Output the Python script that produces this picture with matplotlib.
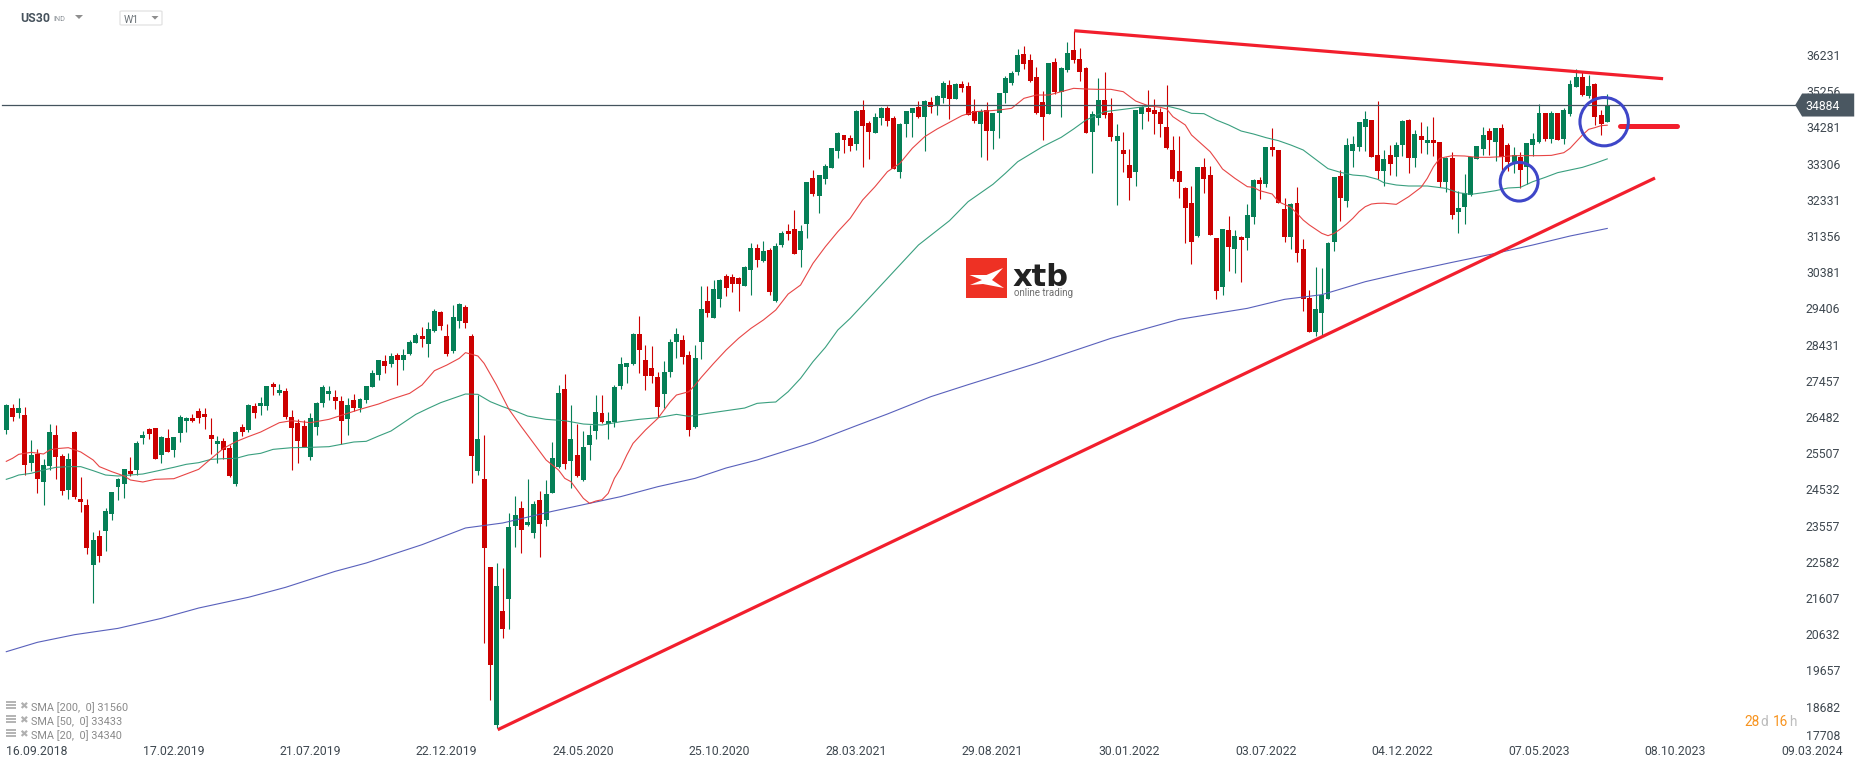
import matplotlib
matplotlib.use('Agg')
import matplotlib.pyplot as plt
from matplotlib.patches import Ellipse, Polygon, Rectangle, FancyBboxPatch

plt.rcParams['font.family'] = ['Roboto', 'DejaVu Sans']

# weekly candles, prices
opens = [
    26132,26725,26590,26536,25243,25486,24732,25163,25997,25432,
    24516,26078,24274,24112,22496,23277,23412,23870,24597,24678,
    25028,25055,25917,26159,26186,25459,25917,25594,26051,26375,
    26455,26644,26563,25997,25755,25836,25647,24678,26213,26132,
    26778,26778,26778,27371,27128,27182,26482,26320,26240,25405,
    26213,26859,27101,27021,26913,26428,26940,26724,26940,27290,
    27613,27990,27909,28152,28017,28179,28475,28663,28448,28798,
    29310,28663,28260,29067,29444,28663,25028,24812,22442,18187,
    21257,21581,23546,24031,23573,23358,24246,23708,24435,25135,
    27236,25297,25458,24785,25727,26105,26589,26293,26347,27316,
    27828,27909,28717,28017,27801,27559,27101,27693,28501,28555,
    28151,26212,28501,29606,29148,29659,30279,30252,30225,30010,
    30440,31033,30683,30979,29606,31114,31491,31545,30979,31679,
    32918,32433,32891,33187,33645,34076,33995,33834,34750,34399,
    34130,34534,34803,34534,33080,34372,34669,34830,34561,34965,
    34884,35073,35423,35046,35450,35396,34723,34372,34750,34184,
    34669,35207,35477,35773,36258,36096,35638,34965,34642,36042,
    35234,35827,36365,36123,35881,34157,34534,35019,34669,33915,
    33672,33268,33080,34642,34804,34750,34696,34292,33673,33107,
    32649,32245,31356,33215,32999,31303,29983,31518,31006,31330,
    31303,31868,32865,32757,33753,33673,32084,31330,32245,31006,
    29687,28771,29283,29660,31195,32972,32299,33646,33753,34292,
    34480,33538,33107,33538,33484,33807,34480,33457,34049,33861,
    33942,33888,32810,33457,32002,32137,32460,33430,33699,34184,
    33888,34265,33807,33349,33484,33214,33807,33888,34669,33968,
    34669,33968,34642,35369,35638,35126,35450,34615,34426]
closes = [
    26805,26491,26725,25190,25459,24813,25190,26078,25405,24489,
    25351,24328,24193,22954,23170,22739,23951,24462,24813,25082,
    24938,25782,25997,26024,25351,25944,25540,25944,26482,26455,
    26375,26455,26482,25890,25836,25594,24893,26078,26078,26805,
    26590,26859,27317,27290,27209,26482,26186,25836,25674,26455,
    26859,27290,27182,26913,26374,26805,26724,26967,27317,27667,
    28017,27856,28125,28017,28152,28502,28690,28583,28852,29337,
    28933,28179,29175,29525,29014,25432,25890,22954,19803,21931,
    20773,23520,23842,23438,23654,24139,23600,24408,25377,27128,
    25216,25889,24893,25674,25997,26616,26347,26374,27289,27909,
    27936,28717,28286,27586,27586,26751,27693,28501,28717,28097,
    26131,28070,29390,29282,29929,30171,29956,30063,30063,30521,
    31033,30710,30952,29848,31087,31437,31410,30871,31491,32810,
    32487,32999,33241,33726,34130,33942,33780,34732,34319,34157,
    34561,34803,34453,33161,34372,34723,34803,34561,34992,34830,
    35127,35477,35046,35450,35342,34615,34453,34723,34184,34669,
    35207,35611,35746,36231,35988,35531,34669,34561,36015,35234,
    35881,36285,36096,35773,34130,34642,35019,34615,34022,34049,
    33565,32918,34750,34831,34696,34642,34373,33726,32892,32811,
    32111,31195,33215,32892,31383,29875,31545,31060,31356,31249,
    31922,32865,32757,33753,33673,32245,31330,32218,30899,29660,
    28771,29390,29768,31168,32945,32380,33807,33834,34427,34507,
    33484,33107,33430,33295,33807,34453,33457,34103,33942,33942,
    33861,32810,33457,31922,32110,32514,33484,33780,34076,33942,
    34265,33484,33349,33538,33134,33861,33968,34669,33968,34669,
    33942,34749,35450,35638,35153,35396,34561,34372,34884]
highs = [
    26832,26832,26994,26752,25863,25620,25351,26294,26267,25486,
    25513,26105,24866,24274,23385,23439,24032,24462,24839,25082,
    25405,25836,26105,26186,26186,25971,26159,25944,26536,26482,
    26563,26725,26725,26455,25971,25917,25728,26105,26294,26832,
    26859,27021,27317,27425,27371,27263,26671,26428,26401,26590,
    26886,27344,27317,27209,27048,26994,27101,26994,27317,27748,
    28017,28152,28206,28206,28313,28556,28744,28906,29041,29391,
    29337,28987,29498,29552,29498,28717,27075,25997,22442,22550,
    22415,23897,24354,24219,24812,24219,24489,24785,25808,27343,
    27640,26805,26293,26105,26266,27074,27074,26616,27343,28097,
    27936,28744,29202,28421,28394,27693,27990,28582,28878,28690,
    28259,28421,30010,30010,30171,30198,30333,30333,30252,30548,
    31168,31141,31221,31033,31168,31491,31679,32056,31652,32810,
    33134,32999,33295,33726,34157,34076,34076,34750,35019,34453,
    34669,34830,34857,34588,34399,34723,34803,34992,35019,35100,
    35153,35531,35557,35477,35531,35504,35046,34776,34965,34669,
    35207,35665,35800,36392,36473,36258,35908,35261,36015,36150,
    35908,36581,36877,36419,35908,34723,35611,35773,35073,34372,
    34157,33699,34750,34857,35288,35046,34804,35423,34050,34050,
    32676,32703,33215,33457,33242,31303,31545,31895,31518,31356,
    32218,32892,32945,33753,34265,33673,32380,32245,32676,31276,
    29902,30522,30495,31195,32945,33134,33996,34050,34427,34723,
    34480,34992,33672,33807,33888,34480,34507,34211,34426,34319,
    34561,33888,33484,33618,32568,33026,33484,33780,34292,34265,
    34265,34372,33861,33753,33618,33861,34130,34911,34669,34723,
    34669,34803,35557,35854,35800,35692,35477,34749,35180]
lows = [
    26024,26375,26455,24920,25028,24435,24112,25055,24813,24382,
    24274,24274,23924,22793,21473,22577,22873,23708,24247,24301,
    24893,24920,25755,25890,25351,25243,25540,25405,25809,26078,
    26348,26321,26159,25486,25243,25351,24866,24624,25971,26078,
    26455,26536,26671,27075,27075,26428,25055,25243,25674,25324,
    25997,26751,26940,26698,25755,25997,26644,26617,26859,27290,
    27479,27667,27829,27344,27748,28152,28475,28367,28098,28771,
    28825,28125,28206,28879,28879,24705,24920,20396,18861,18107,
    20530,20773,22981,22819,23546,23223,22711,23546,24435,25108,
    25081,24569,24866,24758,25324,25889,26320,25889,26212,27236,
    27397,27882,27666,27209,27397,26482,26724,27559,28070,27909,
    25970,26185,28044,29175,29148,29444,29740,29848,29336,30010,
    29767,30521,30656,29767,29579,31060,31248,30871,30521,31302,
    32433,31975,32756,33187,33457,33591,33645,33672,33214,33430,
    34130,34346,34319,33161,32918,34022,34022,34534,33645,34669,
    34615,34938,34507,35046,35234,34615,34399,33484,33403,33699,
    33995,34938,35423,35692,35854,35504,34642,33942,34642,35180,
    34561,35773,36015,35531,34130,33053,34346,34534,33915,32191,
    33080,32326,32703,34238,34454,34103,34023,33699,32838,32380,
    31168,30602,31330,32514,31383,29660,29768,30414,30360,30118,
    30979,31680,32353,32676,33511,32245,31195,31006,30656,29337,
    28771,28663,28690,29660,30952,31760,32137,33215,33646,33646,
    33484,32892,32703,32999,32972,33511,33053,33214,33591,33564,
    33511,32676,32541,31814,31437,31679,32433,33430,33538,33538,
    33376,33080,33107,33053,32649,32757,33511,33861,33915,33861,
    33942,33834,34588,35369,35126,35073,34345,34076,34426]

# moving averages, read at the weeks listed
sma20_w = [0,1,2,4,6,7,8,10,12,14,15,17,19,20,22,24,27,29,31,33,35,37,39,41,44,46,49,52,55,57,60,62,65,67,
           69,71,73,74,76,77,79,81,83,85,87,89,90,91,93,94,95,96,97,98,99,100,101,103,105,107,108,110,111,112,
           114,116,118,120,122,124,126,128,130,132,134,136,138,140,142,144,146,148,150,152,154,156,158,160,162,
           164,166,168,170,172,174,176,178,180,182,184,186,187,188,190,191,193,194,195,196,198,200,201,202,204,
           205,207,208,209,210,212,213,214,215,216,217,218,219,220,221,222,224,226,228,229,230,231,233,235,237,
           239,241,243,245,247,249,251,252,253,254,255,256,257,258]
sma20 = [25288,25369,25477,25531,25486,25594,25629,25656,25540,25324,25145,25010,24893,24786,24732,24804,24821,
         24947,25073,25360,25638,25818,25953,26078,26329,26383,26329,26419,26581,26689,26832,26958,27119,27344,
         27730,27882,28062,28215,28125,27927,27344,26690,26221,25772,25323,25054,24830,24740,24291,24157,24219,
         24255,24426,24830,25099,25458,25772,26131,26446,26894,27074,27164,27343,27550,27927,28286,28600,28869,
         29094,29363,29794,30036,30620,31069,31473,31832,32326,32685,33089,33313,33717,34031,34238,34417,34597,
         34705,34723,34750,34794,35064,35153,35153,35243,35333,35315,35306,35306,35243,34992,34866,34822,34777,
         34570,34346,34077,33780,33628,33403,33161,32909,32685,32667,32577,32487,32281,32129,31967,31787,31653,
         31428,31365,31428,31545,31680,31832,32012,32146,32218,32236,32240,32209,32415,32667,32909,33223,33448,
         33520,33511,33475,33475,33493,33520,33520,33520,33528,33600,33717,33897,34076,34229,34274,34328,34340]
sma50_w = [0,1,2,4,6,8,10,12,14,16,18,20,22,24,27,29,31,33,35,37,39,41,43,46,49,52,54,56,58,60,62,64,66,68,70,
           72,74,76,78,80,82,84,87,90,93,96,99,102,105,108,110,113,116,119,121,123,124,126,128,130,132,134,136,
           139,143,147,152,155,159,161,163,167,170,172,174,177,180,183,185,187,189,191,193,195,197,199,201,203,
           205,207,209,211,213,215,217,219,221,222,224,226,229,232,234,236,238,240,242,244,246,248,250,252,254,256,258]
sma50 = [24804,24857,24920,24965,25055,25127,25145,25145,25037,24920,24893,24920,24947,25019,25127,25208,25252,
         25342,25360,25369,25459,25504,25611,25656,25665,25683,25746,25809,25827,25970,26105,26329,26554,26715,
         26868,26985,27101,27092,26895,26760,26644,26508,26419,26383,26293,26266,26356,26419,26464,26553,26500,
         26580,26652,26724,26850,26877,26886,27164,27523,27972,28358,28825,29139,29677,30396,31114,31769,32281,
         32748,33044,33358,33762,34013,34238,34480,34705,34767,34831,34866,34857,34777,34660,34651,34480,34346,
         34184,34103,34005,33924,33807,33673,33421,33170,33071,32999,32972,32883,32792,32730,32703,32703,32640,
         32523,32478,32523,32577,32649,32667,32819,32936,33062,33134,33205,33313,33433]
sma200_w = [0,5,11,18,25,31,39,45,53,58,67,74,80,88,99,105,111,116,121,130,137,142,149,155,166,178,189,200,206,
            212,219,226,233,240,246,252,258]
sma200 = [20162,20414,20620,20790,21060,21338,21626,21895,22326,22550,23044,23493,23628,23942,24337,24606,24830,
          25109,25324,25800,26249,26563,27030,27353,27927,28600,29112,29408,29651,29776,30126,30396,30647,30889,
          31114,31356,31560]

y_ticks = [36231,35256,34281,33306,32331,31356,30381,29406,28431,27457,26482,25507,
           24532,23557,22582,21607,20632,19657,18682,17708]
x_labels = ['16.09.2018','17.02.2019','21.07.2019','22.12.2019','24.05.2020','25.10.2020','28.03.2021',
            '29.08.2021','30.01.2022','03.07.2022','04.12.2022','07.05.2023','08.10.2023','09.03.2024']
last_price = 34884

# hand drawn lines on the chart: (week, price)
support = ([79.2, 265.7], [18061, 32918])
resist = ([172.1, 267.0], [36885, 35593])
target = ([260.1, 269.2], [34311, 34311])

GREEN = '#057f56'
RED = '#cc0000'
TXT = '#3f4850'
W, H = 1866, 767

fig = plt.figure(figsize=(W / 100, H / 100), dpi=100, facecolor='white')
AX_BOTTOM = 743
ax = fig.add_axes([0, 1 - AX_BOTTOM / H, 1, AX_BOTTOM / H])
ax.set_xlim(-1.015, 299.7)
ax.set_ylim(17703, 37712)
for s in ax.spines.values():
    s.set_visible(False)


def fx(x):
    return x / W


def fy(y):
    return 1 - y / H


# candles
weeks = list(range(len(opens)))
cols = [GREEN if c >= o else RED for o, c in zip(opens, closes)]
ax.vlines(weeks, lows, highs, colors=cols, lw=0.8, zorder=2)
ax.bar(weeks, [abs(c - o) for o, c in zip(opens, closes)], bottom=[min(o, c) for o, c in zip(opens, closes)],
       width=0.8, color=cols, lw=0, zorder=3)

# sma lines
ax.plot(sma200_w, sma200, color='#5058b8', lw=0.8, alpha=0.95, zorder=4)
ax.plot(sma50_w, sma50, color='#2f9a78', lw=0.8, alpha=0.95, zorder=4)
ax.plot(sma20_w, sma20, color='#e63c3c', lw=0.8, alpha=0.95, zorder=4)

# price line and tag
ax.plot([-0.7, 288.3], [last_price, last_price], color='#44535e', lw=0.9, zorder=5)
ax.add_patch(Polygon([(288.3, last_price), (289.4, last_price + 310), (297.8, last_price + 310),
                      (297.8, last_price - 310), (289.4, last_price - 310)],
                     closed=True, fc='#4a5761', ec='none', zorder=6))
ax.text(289.9, last_price, str(last_price), color='white', fontsize=8.8, va='center_baseline', ha='left', zorder=7)

# trend lines and circles
ax.plot(*support, color='#f21f2d', lw=2.3, solid_capstyle='butt', zorder=6)
ax.plot(*resist, color='#f21f2d', lw=2.3, solid_capstyle='butt', zorder=6)
ax.plot(*target, color='#f21f2d', lw=3.6, solid_capstyle='round', zorder=6)
ax.add_patch(Ellipse((243.8, 32819), 6.1, 1042, fc='none', ec='#3e46c8', lw=2.2, zorder=6))
ax.add_patch(Ellipse((257.5, 34435), 7.8, 1300, fc='none', ec='#3e46c8', lw=2.2, zorder=6))

# axes
ax.yaxis.tick_right()
ax.set_yticks(y_ticks)
ax.set_yticklabels([str(v) for v in y_ticks], fontsize=8.8, color=TXT)
ax.tick_params(axis='y', length=0, pad=-43.2)
ax.get_yticklabels()[-1].set_va('bottom')
ax.set_xticks([22 * k for k in range(len(x_labels))])
ax.set_xticklabels(x_labels, fontsize=8.8, color=TXT, ha='left')
ax.tick_params(axis='x', length=0, pad=1.5)

# header
fig.text(fx(20), fy(19), 'US30', fontsize=8.8, fontweight='bold', color='#46525c', va='center')
fig.text(fx(53), fy(19.5), 'IND', fontsize=5.2, color='#8a9096', va='center')
fig.add_artist(Polygon([(fx(75), fy(15)), (fx(83), fy(15)), (fx(79), fy(19))], closed=True, fc='#8e8e8e', ec='none',
                       transform=fig.transFigure))
fig.add_artist(FancyBboxPatch((fx(120), fy(25)), fx(42), 14 / H, boxstyle='round,pad=0,rounding_size=0.001',
                              fc='white', ec='#e2e2e2', lw=0.9, transform=fig.transFigure))
fig.text(fx(124), fy(20), 'W1', fontsize=7.6, color='#6d7479', va='center')
fig.add_artist(Polygon([(fx(151.5), fy(16)), (fx(158.5), fy(16)), (fx(155), fy(19.6))], closed=True, fc='#8e8e8e',
                       ec='none', transform=fig.transFigure))

# legend bottom left
legend_rows = [('SMA [200,  0] 31560', 707), ('SMA [50,  0] 33433', 721), ('SMA [20,  0] 34340', 735)]
for label, y in legend_rows:
    fig.text(fx(31), fy(y + 1), label, fontsize=7.8, color='#8a8a8a', va='center')
    fig.text(fx(19), fy(y - 1), '\u2716', fontsize=7.5, color='#b0b0b0', va='center', family='DejaVu Sans')
    for dy in (-6, -3, 0):
        fig.add_artist(Rectangle((fx(6), fy(y + dy + 2)), 10 / W, 2 / H, fc='#b5b5b5', ec='none',
                                 transform=fig.transFigure))

# countdown
for txt, x, c in [('28', 1744, '#f7931e'), ('d', 1760, '#bdbdbd'), ('16', 1773, '#f7931e'), ('h', 1789, '#bdbdbd')]:
    fig.text(fx(x), fy(722), txt, fontsize=9.8, color=c, va='center')

# logo
fig.add_artist(Rectangle((fx(966), fy(298)), 41 / W, 40 / H, fc='#ee3124', ec='none', transform=fig.transFigure))
swoosh = [(969.5, 275), (986.5, 275), (1003, 268), (992, 280), (1004, 288), (983, 284), (970, 285), (982, 280)]
fig.add_artist(Polygon([(fx(x), fy(y)) for x, y in swoosh], closed=True, fc='white', ec='none',
                       transform=fig.transFigure))
fig.text(fx(1013), fy(285.5), 'xtb', fontsize=22, fontweight='bold', color='#222222', family='DejaVu Sans',
         va='baseline')
fig.text(fx(1014), fy(292.5), 'online trading', fontsize=7.0, color='#6f6f6f', va='center')

fig.savefig('out.png', dpi=100, facecolor='white')
